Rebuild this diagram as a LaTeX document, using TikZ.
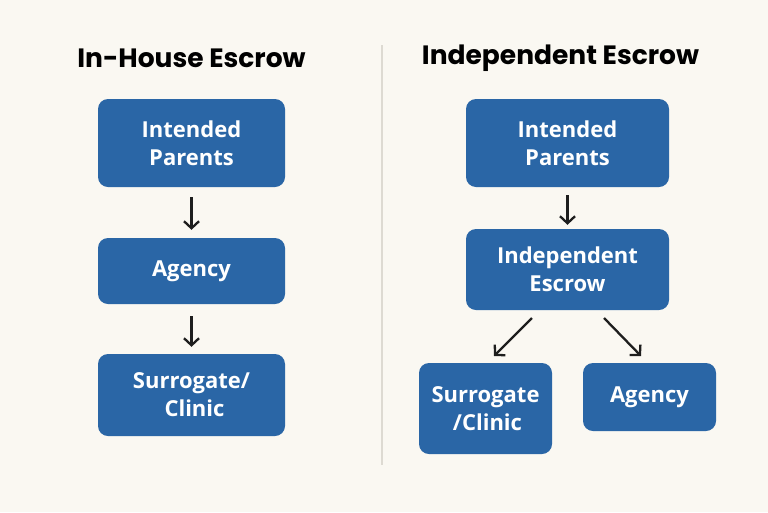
\documentclass[tikz,border=0pt]{standalone}
\usepackage{fontspec}
\setmainfont{Open Sans}
\newfontfamily\boxfont{Open Sans}
\newfontfamily\titlefont{Poppins}
\usetikzlibrary{arrows.meta}
\definecolor{bg}{HTML}{FAF8F2}
\definecolor{boxblue}{HTML}{2A66A6}
\definecolor{ink}{HTML}{1E1E1E}
\definecolor{divider}{HTML}{DDDAD2}
\tikzset{
  flowbox/.style={fill=boxblue, rounded corners=10pt, text=white, align=center,
    font=\boxfont\bfseries\fontsize{22}{28}\selectfont, inner sep=0pt},
  flowarrow/.style={draw=ink, line width=2.3pt, -{Straight Barb[length=7pt,width=15pt,line width=2.3pt]}},
  titletext/.style={font=\titlefont\fontsize{26.5}{30}\selectfont\bfseries, text=black}
}
\begin{document}
\begin{tikzpicture}[x=1pt,y=-1pt]
\fill[bg] (0,0) rectangle (768,512);
\useasboundingbox (0,0) rectangle (768,512);
\draw[divider, line width=1.2pt] (382,45) -- (382,465);

\node[titletext] (t1) at (191.5,58) {In-House Escrow};
\node[titletext] (t2) at (560.5,58) {Independent Escrow};

% left column
\node[flowbox, minimum width=187pt, minimum height=88pt] (lip) at (191.5,143) {Intended\\Parents};
\node[flowbox, minimum width=187pt, minimum height=66pt] (lag) at (191.5,271) {Agency};
\node[flowbox, minimum width=187pt, minimum height=82pt] (lsc) at (191.5,395) {Surrogate/\\\hspace*{6pt}Clinic};
\draw[flowarrow] ([yshift=-10pt]lip.south) -- ([yshift=8pt]lag.north);
\draw[flowarrow] ([yshift=-12pt]lag.south) -- ([yshift=7pt]lsc.north);

% right column
\node[flowbox, minimum width=203pt, minimum height=88pt] (rip) at (567.5,143) {Intended\\Parents};
\node[flowbox, minimum width=203pt, minimum height=81pt] (rie) at (567.5,269.5) {Independent\\Escrow};
\node[flowbox, minimum width=133pt, minimum height=91pt] (rsc) at (485.5,408.5) {Surrogate\\\hspace*{4pt}/Clinic};
\node[flowbox, minimum width=133pt, minimum height=68pt] (rag) at (649.5,397) {Agency};
\draw[flowarrow] ([yshift=-8pt]rip.south) -- ([yshift=4pt]rie.north);
\coordinate (d1s) at (532,318);
\coordinate (d1e) at (494,356);
\coordinate (d2s) at (604,318);
\coordinate (d2e) at (641,356);
\draw[flowarrow] (d1s) -- (d1e);
\draw[flowarrow] (d2s) -- (d2e);
\end{tikzpicture}
\end{document}
